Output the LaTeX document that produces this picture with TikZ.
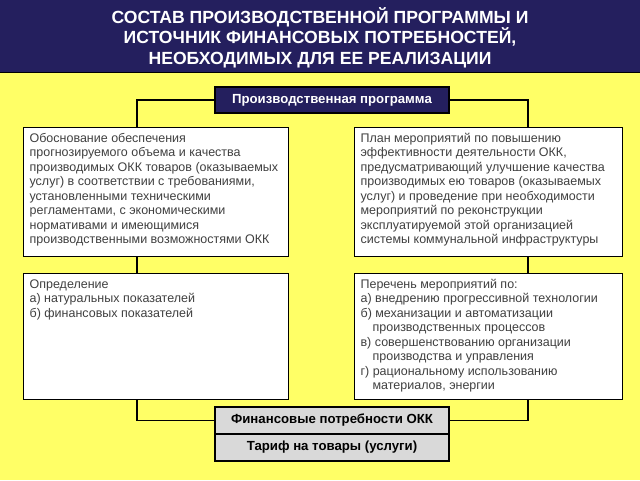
\documentclass[tikz,border=0pt]{standalone}
\usepackage{fontspec}
\setmainfont{Liberation Sans}
\definecolor{navy}{HTML}{241F5E}
\definecolor{bgyellow}{HTML}{FFFF66}
\definecolor{boxgray}{HTML}{D9D9D9}
\definecolor{txtgray}{HTML}{404040}
\newcommand\boxtext[3]{\parbox[c][#2][t]{#1}{\raggedright\fontsize{12.5pt}{14.5pt}\selectfont\color{txtgray}\rule{0pt}{10.5pt}#3}}
\tikzset{
  txtbox/.style={draw=black, line width=1.2pt, fill=white, anchor=north west, inner xsep=6pt, inner ysep=4pt},
  headbox/.style={draw=black, line width=1.2pt, fill=navy, text=white, font=\bfseries\fontsize{13.2pt}{15pt}\selectfont, minimum width=234pt, minimum height=26pt, inner sep=0pt},
  graybox/.style={draw=black, line width=1.2pt, fill=boxgray, text=black, font=\bfseries\fontsize{13.2pt}{15pt}\selectfont, minimum width=234pt, minimum height=27pt, inner sep=0pt},
  conn/.style={draw=black, line width=1.3pt}
}
\begin{document}
\begin{tikzpicture}[x=1pt,y=-1pt]
\useasboundingbox (0,0) rectangle (640,480);
\fill[bgyellow] (0,0) rectangle (640,480);
\fill[navy] (0,0) rectangle (640,72);
\draw[black, line width=1.5pt] (0,72.5) -- (640,72.5);
\node[text=white, font=\bfseries\fontsize{17.6pt}{20.5pt}\selectfont, align=center, anchor=base, inner sep=0pt] (title) at (320,64)
  {СОСТАВ ПРОИЗВОДСТВЕННОЙ ПРОГРАММЫ И\\ИСТОЧНИК ФИНАНСОВЫХ ПОТРЕБНОСТЕЙ,\\НЕОБХОДИМЫХ ДЛЯ ЕЕ РЕАЛИЗАЦИИ};
\coordinate (cl) at (137,0);
\coordinate (cr) at (528,0);
\node[headbox] (P) at (332,100) {Производственная программа};
\node[txtbox] (L1) at (23,127) {\boxtext{253pt}{121pt}{Обоснование обеспечения\\прогнозируемого объема и качества\\производимых ОКК товаров (оказываемых\\услуг) в соответствии с требованиями,\\установленными техническими\\регламентами, с экономическими\\нормативами и имеющимися\\производственными возможностями ОКК}};
\node[txtbox] (R1) at (354,127) {\boxtext{256pt}{121pt}{План мероприятий по повышению\\эффективности деятельности ОКК,\\предусматривающий улучшение качества\\производимых ею товаров (оказываемых\\услуг) и проведение при необходимости\\мероприятий по реконструкции\\эксплуатируемой этой организацией\\системы коммунальной инфраструктуры}};
\node[txtbox] (L2) at (23,273) {\boxtext{253pt}{118pt}{Определение\\а) натуральных показателей\\б) финансовых показателей}};
\node[txtbox] (R2) at (354,273) {\boxtext{256pt}{118pt}{Перечень мероприятий по:\\а) внедрению прогрессивной технологии\\б) механизации и автоматизации\\\hspace*{12pt}производственных процессов\\в) совершенствованию организации\\\hspace*{12pt}производства и управления\\г) рациональному использованию\\\hspace*{12pt}материалов, энергии}};
\node[graybox] (F) at (332,420.5) {Финансовые потребности ОКК};
\node[graybox] (T) at (332,447.5) {Тариф на товары (услуги)};
\draw[conn] (P.west) -| (L1.north -| cl);
\draw[conn] (P.east) -| (R1.north -| cr);
\draw[conn] (L1.south -| cl) -- (L2.north -| cl);
\draw[conn] (R1.south -| cr) -- (R2.north -| cr);
\draw[conn] (L2.south -| cl) |- (F.west);
\draw[conn] (R2.south -| cr) |- (F.east);
\end{tikzpicture}
\end{document}
